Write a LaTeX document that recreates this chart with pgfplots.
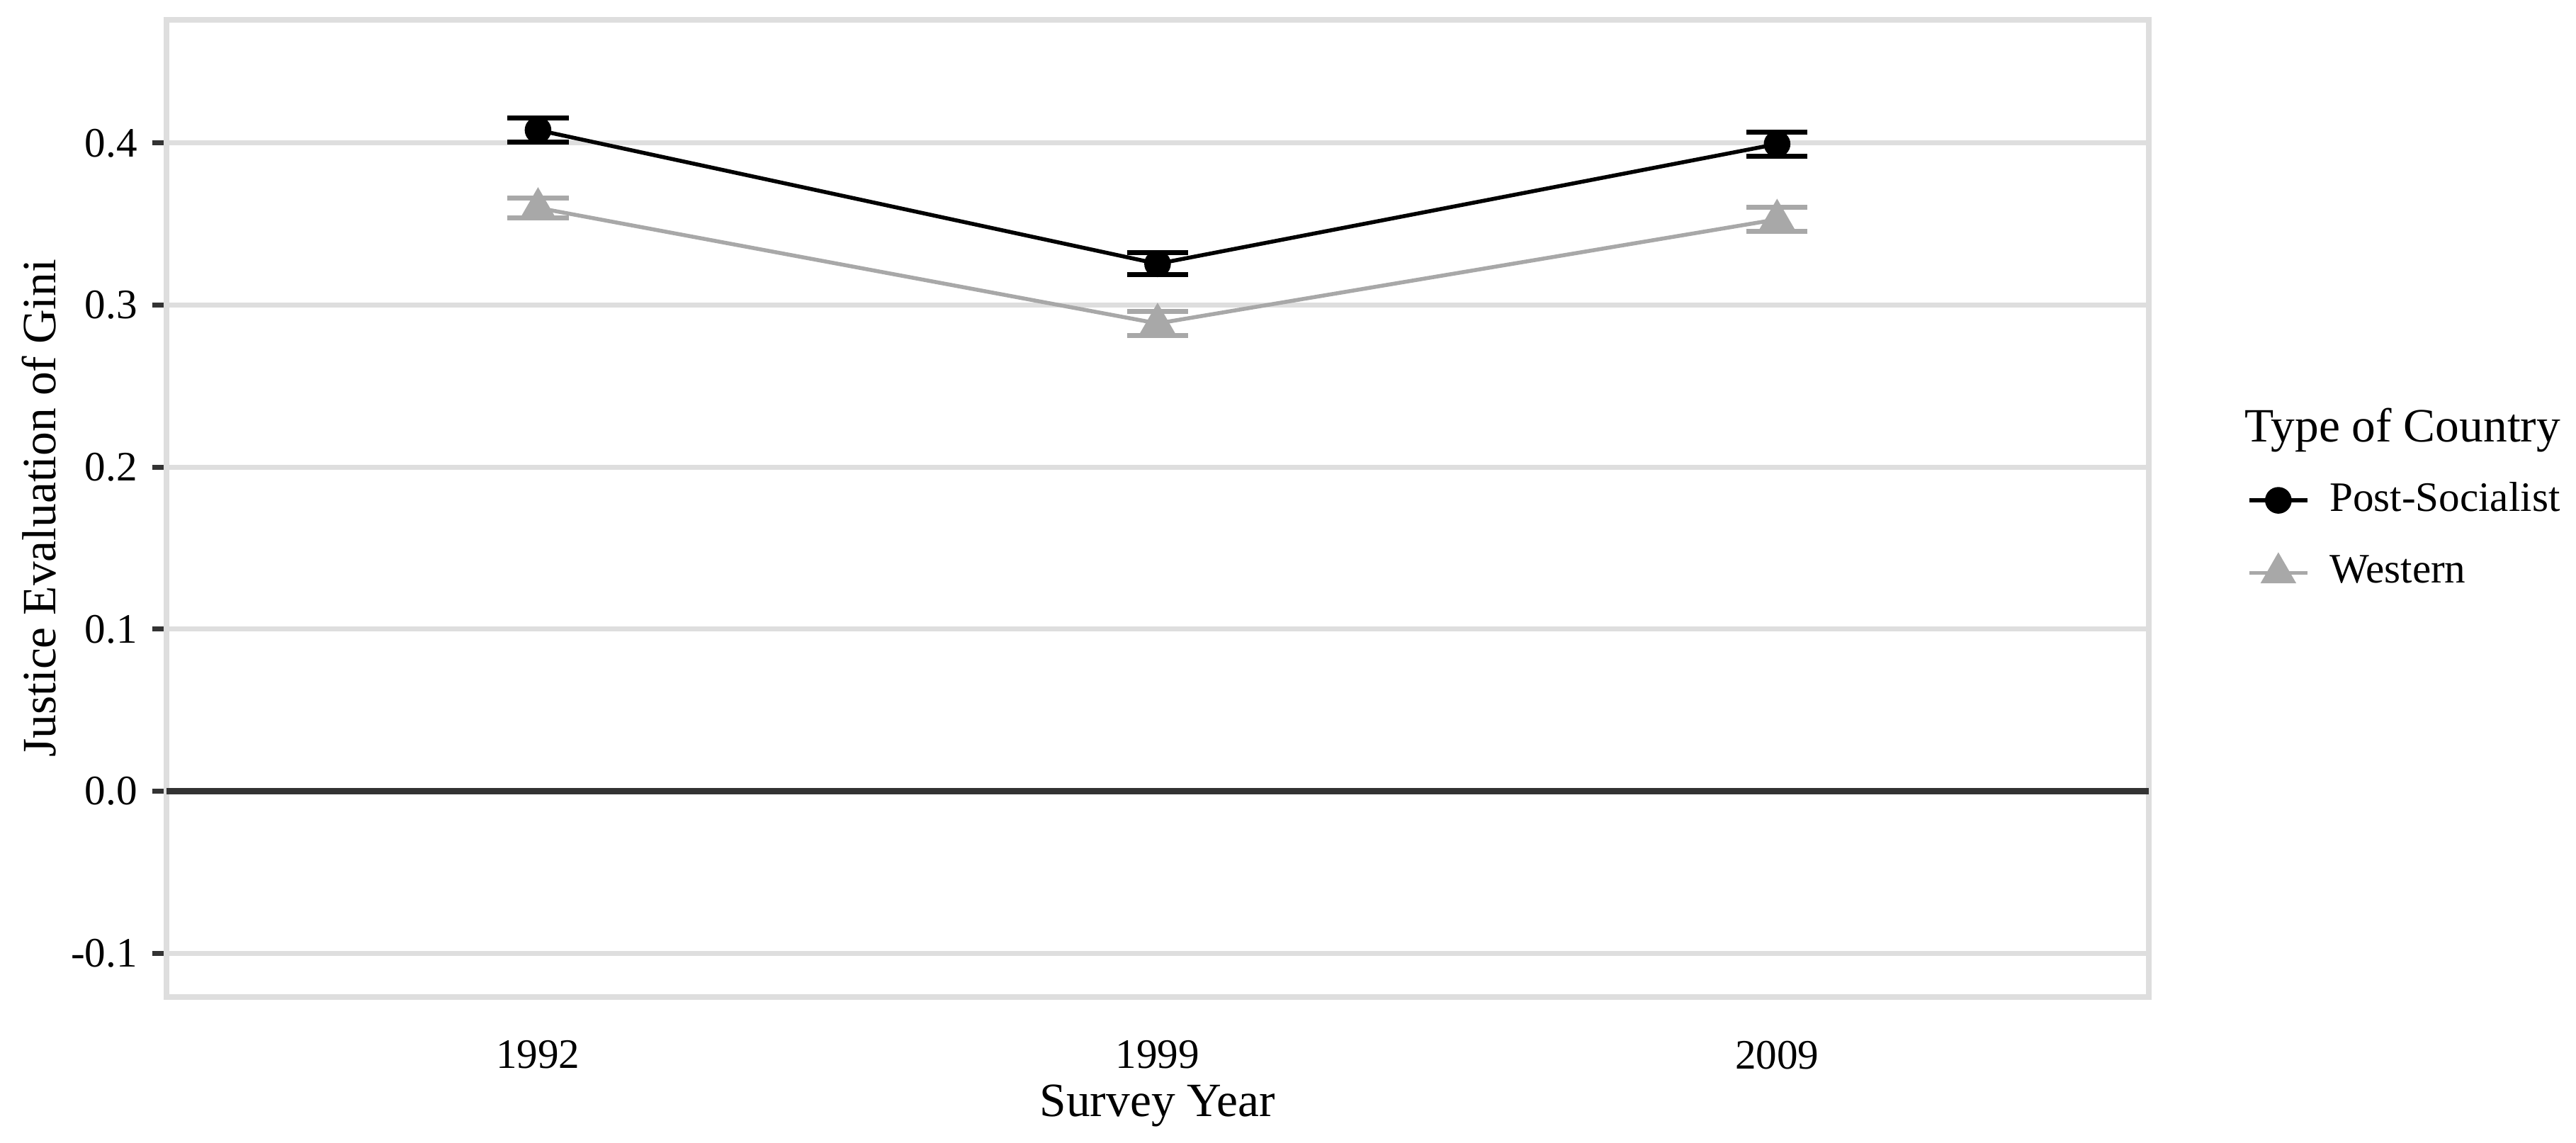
\documentclass[border=0pt]{standalone}
\usepackage{fontspec}
\setmainfont{Liberation Serif}
\usepackage{pgfplots}
\pgfplotsset{compat=1.18}
\usepackage{pgfplotstable}
\definecolor{gridc}{HTML}{DEDEDE}
\definecolor{tickc}{HTML}{333333}
\definecolor{westc}{HTML}{A8A8A8}

\pgfplotstableread{
x y e
1 0.4080 0.0073
2 0.3255 0.0067
3 0.3994 0.0074
}\ps
\pgfplotstableread{
x y e
1 0.3600 0.0060
2 0.2887 0.0076
3 0.3529 0.0073
}\west

\begin{document}
\begin{tikzpicture}
\begin{axis}[
  scale only axis, width=402.2pt, height=198.2pt,
  xmin=0.4, xmax=3.6, ymin=-0.1269, ymax=0.4761,
  xtick={1,2,3}, xticklabels={1992,1999,2009},
  ytick={-0.1,0,0.1,0.2,0.3,0.4}, yticklabels={-0.1,0.0,0.1,0.2,0.3,0.4},
  xtick pos=bottom, ytick pos=left,
  axis line style={gridc, line width=1.1pt},
  ymajorgrids, major grid style={gridc, line width=1pt},
  tick align=outside, major tick length=2.9pt,
  xtick style={draw=none}, ytick style={tickc, line width=1pt},
  ticklabel style={font=\fontsize{8.5}{10}\selectfont, inner sep=0pt, text=black},
  yticklabel style={anchor=east, xshift=-2.8pt},
  xticklabel style={anchor=north, yshift=-5.8pt},
  clip=false,
  xlabel={Survey Year}, ylabel={Justice Evaluation of Gini},
  label style={font=\fontsize{9.7}{11}\selectfont},
  xlabel style={at={(axis description cs:0.5,-0.1220)}, anchor=base, inner sep=0pt},
  ylabel style={at={(axis description cs:-0.0558,0.5)}, anchor=base, inner sep=0pt},
  legend style={at={(axis description cs:1.0492,0.4714)}, anchor=west, draw=none, fill=none,
    inner sep=0pt, row sep=7.5pt, font=\fontsize{8.5}{10}\selectfont,
    nodes={inner sep=0pt}, /tikz/every odd column/.style={column sep=4.1pt}},
  legend cell align=left,
  legend image code/.code={\draw[mark repeat=2,mark phase=2] plot coordinates {(0pt,0pt) (5.9pt,0pt) (11.8pt,0pt)};},
]
\addplot[forget plot, tickc, line width=1.3pt] coordinates {(0.4,0) (3.6,0)};
\addplot[black, line width=0.8pt, mark=*, mark size=2.3pt, mark options={solid},
  error bars/.cd, y dir=both, y explicit,
  error mark options={black, line width=1pt, mark size=6.2pt, rotate=90},
  error bar style={line width=1pt}]
  table[x=x, y=y, y error=e] {\ps};
\addlegendentry{Post-Socialist}
\addplot[westc, line width=0.8pt, mark=triangle*, mark size=3.4pt, mark options={solid, fill=westc},
  error bars/.cd, y dir=both, y explicit,
  error mark options={westc, line width=1pt, mark size=6.2pt, rotate=90},
  error bar style={line width=1pt}]
  table[x=x, y=y, y error=e] {\west};
\addlegendentry{Western}
\node[anchor=base west, inner sep=0pt, font=\fontsize{9.7}{11}\selectfont] at (axis description cs:1.0481,0.5684) {Type of Country};
\coordinate (BL) at (axis description cs:-0.0839,-0.1489);
\coordinate (TR) at (axis description cs:1.2155,1.0202);
\end{axis}
\pgfresetboundingbox
\useasboundingbox (BL) rectangle (TR);
\end{tikzpicture}
\end{document}
